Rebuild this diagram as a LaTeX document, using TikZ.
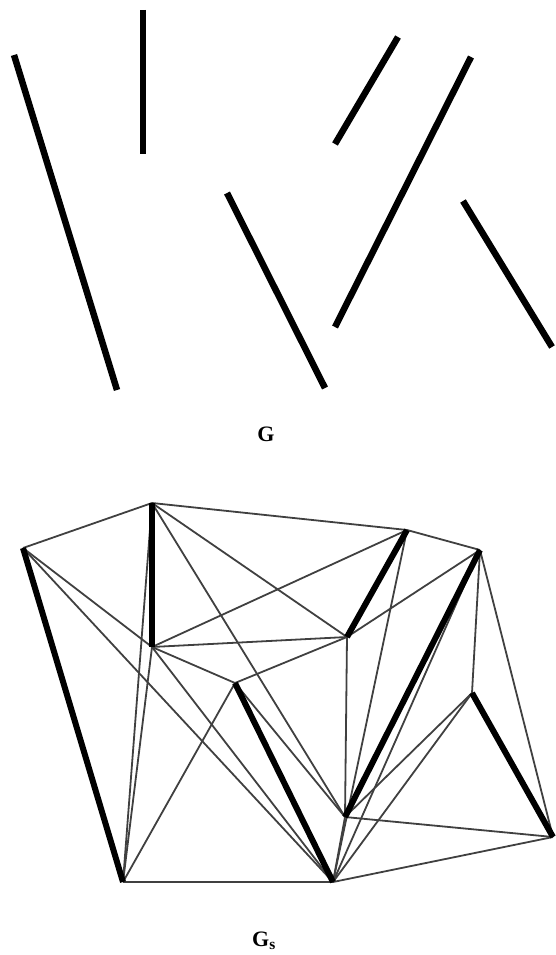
\documentclass[tikz,border=0pt]{standalone}
\usepackage{fontspec}
\setmainfont{Liberation Serif}
\begin{document}
\begin{tikzpicture}[x=1pt,y=-1pt,
  seg/.style={line width=6.5pt,black},
  thick/.style={line width=6pt,black},
  thin/.style={line width=1.8pt,black!75},
  lbl/.style={font=\bfseries\fontsize{22}{26}\selectfont}]
\useasboundingbox (0,0) rectangle (555,955);
% ---- G : set of segments ----
\coordinate (p1) at (14,55);   \coordinate (q1) at (117,390);
\coordinate (p2) at (143,10);  \coordinate (q2) at (143,154);
\coordinate (p3) at (227,193); \coordinate (q3) at (325,388);
\coordinate (p4) at (398,37);  \coordinate (q4) at (335,144);
\coordinate (p5) at (471,57);  \coordinate (q5) at (335,327);
\coordinate (p6) at (463,201); \coordinate (q6) at (552,347);
\foreach \i in {1,...,6} \draw[seg] (p\i) -- (q\i);
\node[lbl] (gl) at (266,434) {G};
% ---- Gs : visibility graph ----
\coordinate (A) at (23,548);
\coordinate (B) at (123,882);
\coordinate (C) at (152,503);
\coordinate (D) at (152,647);
\coordinate (E) at (235,683);
\coordinate (F) at (333,882);
\coordinate (G) at (407,530);
\coordinate (H) at (347,637);
\coordinate (I) at (480,550);
\coordinate (J) at (345,817);
\coordinate (K) at (472,693);
\coordinate (L) at (553,837);
\foreach \a/\b in {A/C,C/G,G/I,I/L,L/F,F/B,
  A/D,A/F,B/C,B/D,B/E,C/H,C/J,D/G,D/H,D/E,D/F,
  E/H,E/J,J/F,K/F,I/F,G/F,I/H,H/J,I/K,K/J,J/L}
  \draw[thin] (\a) -- (\b);
\foreach \a/\b in {A/B,C/D,E/F,G/H,I/J,K/L}
  \draw[thick] (\a) -- (\b);
\node[lbl] (gsl) at (264,941) {G\textsubscript{s}};
\end{tikzpicture}
\end{document}
